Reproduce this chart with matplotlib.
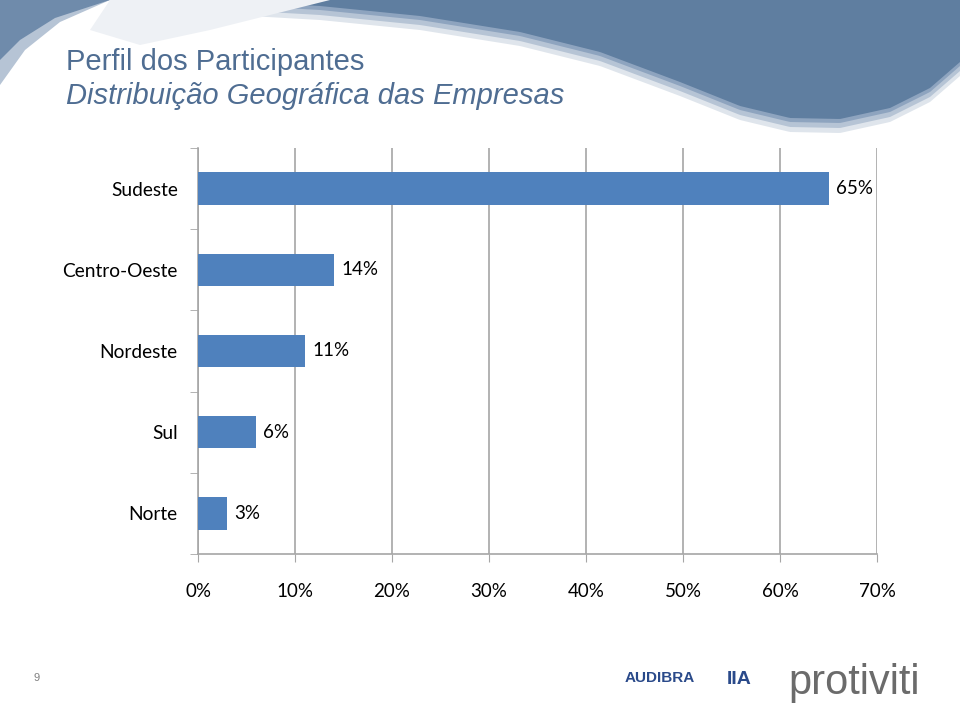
import numpy as np
import matplotlib.pyplot as plt
from matplotlib.patches import Polygon

regions = ['Sudeste', 'Centro-Oeste', 'Nordeste', 'Sul', 'Norte']
shares = [65, 14, 11, 6, 3]
ticks = [0, 10, 20, 30, 40, 50, 60, 70]

fig = plt.figure(figsize=(9.6, 7.05), dpi=100)
W, H = 960, 705

# header wave (figure pixel coords, y from top)
bg = fig.add_axes([0, 0, 1, 1], zorder=0)
bg.set_xlim(0, W)
bg.set_ylim(H, 0)
bg.axis('off')
xs = np.linspace(215, 960, 300)
lower = np.interp(xs, [215, 320, 420, 520, 600, 680, 740, 790, 840, 890, 930, 960],
                      [0, 6, 16, 32, 52, 82, 106, 118, 119, 108, 88, 62])
for c, off in [('#dfe5ec', 14), ('#b6c4d5', 9), ('#8ea4bf', 4), ('#5f7ea0', 0)]:
    pts = np.column_stack([np.r_[xs, 960, 215], np.r_[lower + off, 0, 0]])
    bg.add_patch(Polygon(pts, closed=True, color=c, lw=0))
bg.add_patch(Polygon(np.array([[0, 0], [110, 0], [60, 22], [25, 50], [0, 85]]),
                     closed=True, color='#b6c4d5', lw=0))
bg.add_patch(Polygon(np.array([[0, 0], [110, 0], [55, 18], [20, 40], [0, 60]]),
                     closed=True, color='#6f8bab', lw=0))
bg.add_patch(Polygon(np.array([[110, 0], [330, 0], [210, 30], [140, 45], [90, 30]]),
                     closed=True, color='#eef1f5', lw=0))

fig.text(66 / W, 1 - 62 / H, 'Perfil dos Participantes', fontsize=21,
         family='Liberation Sans', color='#4f6d92', va='center')
fig.text(66 / W, 1 - 96 / H, 'Distribuição Geográfica das Empresas', fontsize=21,
         family='Liberation Sans', style='italic', color='#4f6d92', va='center')

# chart
ax = fig.add_axes([198 / W, 1 - 554 / H, (877 - 198) / W, (554 - 148) / H], zorder=1)
ax.patch.set_alpha(0)
y = np.arange(len(regions))
ax.barh(y, shares, height=0.4, color='#4f81bd', zorder=3)
for yi, v in zip(y, shares):
    ax.text(v + 0.75, yi, f'{v}%', va='center', ha='left', fontsize=13.5,
            family='Lato', color='black')
ax.set_xlim(0, 70)
ax.set_ylim(len(regions) - 0.5, -0.5)
ax.set_xticks(ticks)
ax.set_xticklabels([f'{t}%' for t in ticks], fontsize=13.5, family='Lato')
ax.set_yticks(y)
ax.set_yticklabels(regions, fontsize=13.8, family='Lato')
ax.set_yticks(np.arange(-0.5, len(regions)), minor=True)
ax.tick_params(axis='y', which='major', length=0, pad=14.5)
ax.tick_params(axis='y', which='minor', length=6, color='#a6a6a6', direction='out')
ax.tick_params(axis='x', length=6, color='#a6a6a6', pad=15)
ax.grid(axis='x', color='#a6a6a6', lw=1.2, zorder=0)
for s in ['top', 'right']:
    ax.spines[s].set_visible(False)
for s in ['left', 'bottom']:
    ax.spines[s].set_color('#a6a6a6')
    ax.spines[s].set_linewidth(1.2)

# footer
fig.text(33 / W, 1 - 678 / H, '9', fontsize=8, color='#808080',
         family='Liberation Sans', va='center')
fig.text(625 / W, 1 - 678 / H, 'AUDIBRA', fontsize=11, color='#2a4a8a',
         family='Liberation Sans', weight='bold', va='center')
fig.text(727 / W, 1 - 680 / H, 'IIA', fontsize=14, color='#2a4a8a',
         family='Liberation Sans', weight='bold', va='center')
fig.text(788 / W, 1 - 683 / H, 'protiviti', fontsize=30, color='#6b6b6b',
         family='Liberation Sans', va='center')

fig.savefig('out.png', dpi=100)
